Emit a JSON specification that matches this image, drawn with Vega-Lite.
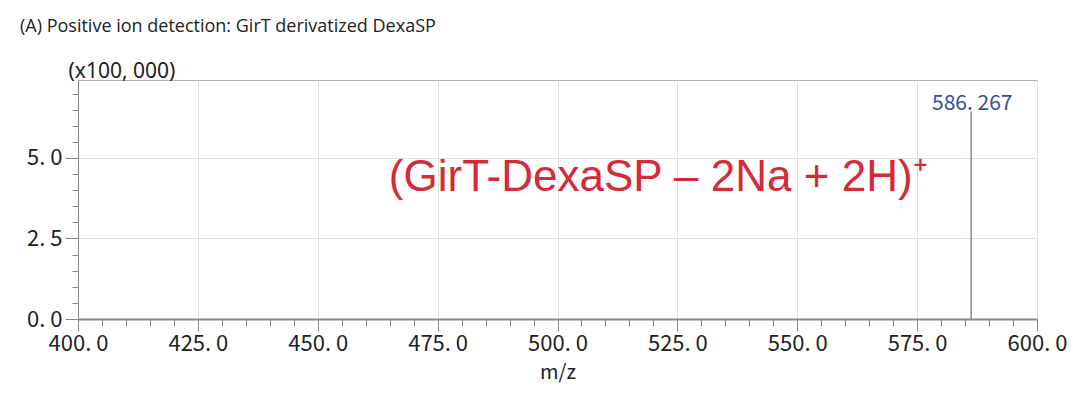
{
  "$schema": "https://vega.github.io/schema/vega-lite/v6.json",
  "autosize": {"type": "none"},
  "padding": {"left": 78, "top": 80, "right": 43, "bottom": 74},
  "width": 959,
  "height": 239,
  "background": "white",
  "title": {
    "text": "(A) Positive ion detection: GirT derivatized DexaSP",
    "anchor": "start",
    "frame": "group",
    "dx": -58,
    "offset": 10,
    "font": "Open Sans",
    "fontSize": 18,
    "fontWeight": "normal",
    "color": "#222222",
    "baseline": "alphabetic"
  },
  "config": {
    "view": {"stroke": "#b0b0b0", "strokeWidth": 1},
    "axis": {"labelFont": "Noto Sans CJK JP", "titleFont": "Noto Sans CJK JP", "labelColor": "#222222", "titleColor": "#222222", "tickColor": "#888888", "domainColor": "#888888", "gridColor": "#e0e0e0"}
  },
  "datasets": {
    "spectrum": [
      {"mz": 586.267, "lo": 0, "hi": 6.45}
    ],
    "notes": [
      {"mz": 521.0, "value": 3.96, "label": "(GirT-DexaSP – 2Na + 2H)⁺", "kind": "formula"},
      {"mz": 586.5, "value": 6.5, "label": "586. 267", "kind": "peak"}
    ]
  },
  "layer": [
    {
      "data": {"name": "spectrum"},
      "mark": {"type": "rule", "color": "#6f74a6", "strokeWidth": 1.3},
      "encoding": {
        "x": {
          "field": "mz", "type": "quantitative",
          "scale": {"domain": [400, 600], "nice": false, "zero": false},
          "axis": {
            "values": [400, 425, 450, 475, 500, 525, 550, 575, 600],
            "grid": true, "tickSize": 12, "labelFontSize": 22, "labelPadding": 2,
            "labelExpr": "replace(format(datum.value, '.1f'), '.', '. ')",
            "domainWidth": 2, "labelFlush": false, "labelOverlap": false,
            "title": "m/z", "titleFontSize": 20, "titleFontWeight": "normal", "titlePadding": 8
          }
        },
        "y": {
          "field": "lo", "type": "quantitative",
          "scale": {"domain": [0, 7.42], "nice": false},
          "axis": {
            "values": [0, 2.5, 5],
            "grid": true, "tickSize": 13, "labelFontSize": 22, "labelPadding": 3,
            "labelExpr": "replace(format(datum.value, '.1f'), '.', '. ')",
            "labelFlush": false, "labelOverlap": false,
            "title": "(x100, 000)", "titleFont": "Noto Sans", "titleFontSize": 21, "titleFontWeight": "normal",
            "titleAngle": 0, "titleAlign": "left", "titleBaseline": "alphabetic", "titleX": -10, "titleY": -3
          }
        },
        "y2": {"field": "hi"}
      }
    },
    {
      "data": {"name": "notes"},
      "transform": [{"filter": "datum.kind == 'formula'"}],
      "mark": {"type": "text", "font": "Liberation Sans", "fontSize": 44, "color": "#d62a36", "align": "center", "baseline": "alphabetic"},
      "encoding": {
        "x": {
          "field": "mz", "type": "quantitative",
          "axis": {
            "values": [400,405,410,415,420,425,430,435,440,445,450,455,460,465,470,475,480,485,490,495,500,505,510,515,520,525,530,535,540,545,550,555,560,565,570,575,580,585,590,595,600],
            "orient": "bottom", "grid": false, "labels": false, "domain": false, "tickSize": 7, "title": null
          }
        },
        "y": {
          "field": "value", "type": "quantitative",
          "axis": {
            "values": [0,0.5,1,1.5,2,2.5,3,3.5,4,4.5,5,5.5,6,6.5,7],
            "orient": "left", "grid": false, "labels": false, "domain": false, "tickSize": 6, "title": null
          }
        },
        "text": {"field": "label"}
      }
    },
    {
      "data": {"name": "notes"},
      "transform": [{"filter": "datum.kind == 'peak'"}],
      "mark": {"type": "text", "font": "Noto Sans CJK JP", "fontSize": 21, "color": "#3a4c9e", "align": "center", "baseline": "alphabetic"},
      "encoding": {
        "x": {"field": "mz", "type": "quantitative", "axis": null},
        "y": {"field": "value", "type": "quantitative", "axis": null},
        "text": {"field": "label"}
      }
    }
  ],
  "resolve": {"axis": {"x": "independent", "y": "independent"}}
}
